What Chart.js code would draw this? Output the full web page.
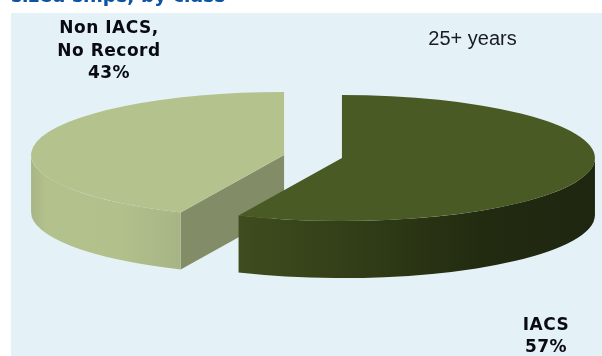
<!DOCTYPE html>
<html lang="en">
<head>
<meta charset="UTF-8">
<title>Sized ships, by class</title>
<script src="https://cdn.jsdelivr.net/npm/chart.js"></script>
<style>
    html, body { margin: 0; padding: 0; background: #fff; overflow: hidden; }
    canvas { display: block; }
</style>
</head>
<body>
<canvas id="chart" width="602" height="356"></canvas>
<script>
var categories = ['IACS', 'Non IACS, No Record'];
var shares = [56.7, 43.3];
var labelLines = [['IACS'], ['Non IACS,', 'No Record']];
var ageGroup = '25+ years';
var heading = 'sized ships, by class';

var topColors = ['#4a5a24', '#b4c28e'];
var faceColors = ['#323d18', '#828c66'];
var wallStops = [
    [[0, '#3f4c1e'], [0.3, '#333f18'], [0.68, '#222b10'], [1, '#1e2610']],
    [[0, '#a9b585'], [0.1, '#b3c18d'], [0.6, '#b2c08c'], [1, '#a7b485']]
];

var squash = 0.249;
var depth = 57;
var explode = 29.6;

// the library only does flat pies, so tilt and extrude its arcs here
var pie3d = {
    id: 'pie3d',
    beforeDraw: function(chart) {
        var ctx = chart.ctx;
        ctx.save();
        ctx.fillStyle = '#e4f2f7';
        ctx.fillRect(11, 13, 591, 343);
        ctx.fillStyle = '#0b53a5';
        ctx.font = 'bold 18.7px "DejaVu Sans"';
        ctx.textAlign = 'left';
        ctx.fillText(heading, 11, 2);
        ctx.restore();
    },
    beforeDatasetDraw: function(chart) {
        var ctx = chart.ctx;
        var arcs = chart.getDatasetMeta(0).data;
        // back slice first, the big one overlaps its cut face
        [1, 0].forEach(function(i) {
            var arc = arcs[i];
            var mid = (arc.startAngle + arc.endAngle) / 2;
            var cx = arc.x + Math.cos(mid) * explode;
            var cy = arc.y + Math.sin(mid) * explode * squash;
            var rx = arc.outerRadius;
            var ry = rx * squash;

            // cut face, only the one turned towards the viewer
            if (i === 1) {
                var ex = cx + Math.cos(arc.startAngle) * rx;
                var ey = cy + Math.sin(arc.startAngle) * ry;
                ctx.fillStyle = faceColors[i];
                ctx.beginPath();
                ctx.moveTo(cx, cy);
                ctx.lineTo(ex, ey);
                ctx.lineTo(ex, ey + depth);
                ctx.lineTo(cx, cy + depth);
                ctx.closePath();
                ctx.fill();
            }

            // curved wall, front half of the rim only
            var a0 = Math.max(arc.startAngle, 0);
            var a1 = Math.min(arc.endAngle, Math.PI);
            if (i === 1) { a0 = arc.startAngle; a1 = Math.PI; }
            var xA = cx + Math.cos(a0) * rx;
            var xB = cx + Math.cos(a1) * rx;
            var grad = ctx.createLinearGradient(Math.min(xA, xB), 0, Math.max(xA, xB), 0);
            wallStops[i].forEach(function(s) { grad.addColorStop(s[0], s[1]); });
            ctx.fillStyle = grad;
            ctx.beginPath();
            ctx.ellipse(cx, cy, rx, ry, 0, a0, a1);
            ctx.ellipse(cx, cy + depth, rx, ry, 0, a1, a0, true);
            ctx.closePath();
            ctx.fill();

            // top surface is the library's own arc, squashed
            ctx.save();
            ctx.translate(cx, cy);
            ctx.scale(1, squash);
            ctx.translate(-arc.x, -arc.y);
            arc.draw(ctx);
            ctx.restore();
        });
        return false;
    },
    afterDraw: function(chart) {
        var ctx = chart.ctx;
        ctx.save();
        ctx.fillStyle = '#0a0a14';
        ctx.textAlign = 'center';
        ctx.font = 'bold 17px "DejaVu Sans"';
        ctx.letterSpacing = '0.5px';
        ctx.fillText(labelLines[1][0], 109, 33);
        ctx.fillText(labelLines[1][1], 109, 56);
        ctx.fillText(Math.round(shares[1]) + '%', 109, 78);
        ctx.fillText(labelLines[0][0], 546, 330);
        ctx.fillText(Math.round(shares[0]) + '%', 546, 352);
        ctx.letterSpacing = '0px';
        ctx.font = '20px "Liberation Sans"';
        ctx.fillStyle = '#1a1a22';
        ctx.fillText(ageGroup, 472.5, 45);
        ctx.restore();
    }
};

new Chart(document.getElementById('chart'), {
    type: 'pie',
    data: {
        labels: categories,
        datasets: [{
            data: shares,
            backgroundColor: topColors,
            borderWidth: 0,
            radius: 253
        }]
    },
    options: {
        responsive: false,
        animation: false,
        layout: { padding: { left: 24, bottom: 43 } },
        plugins: { legend: { display: false }, tooltip: { enabled: false } }
    },
    plugins: [pie3d]
});
</script>
</body>
</html>
